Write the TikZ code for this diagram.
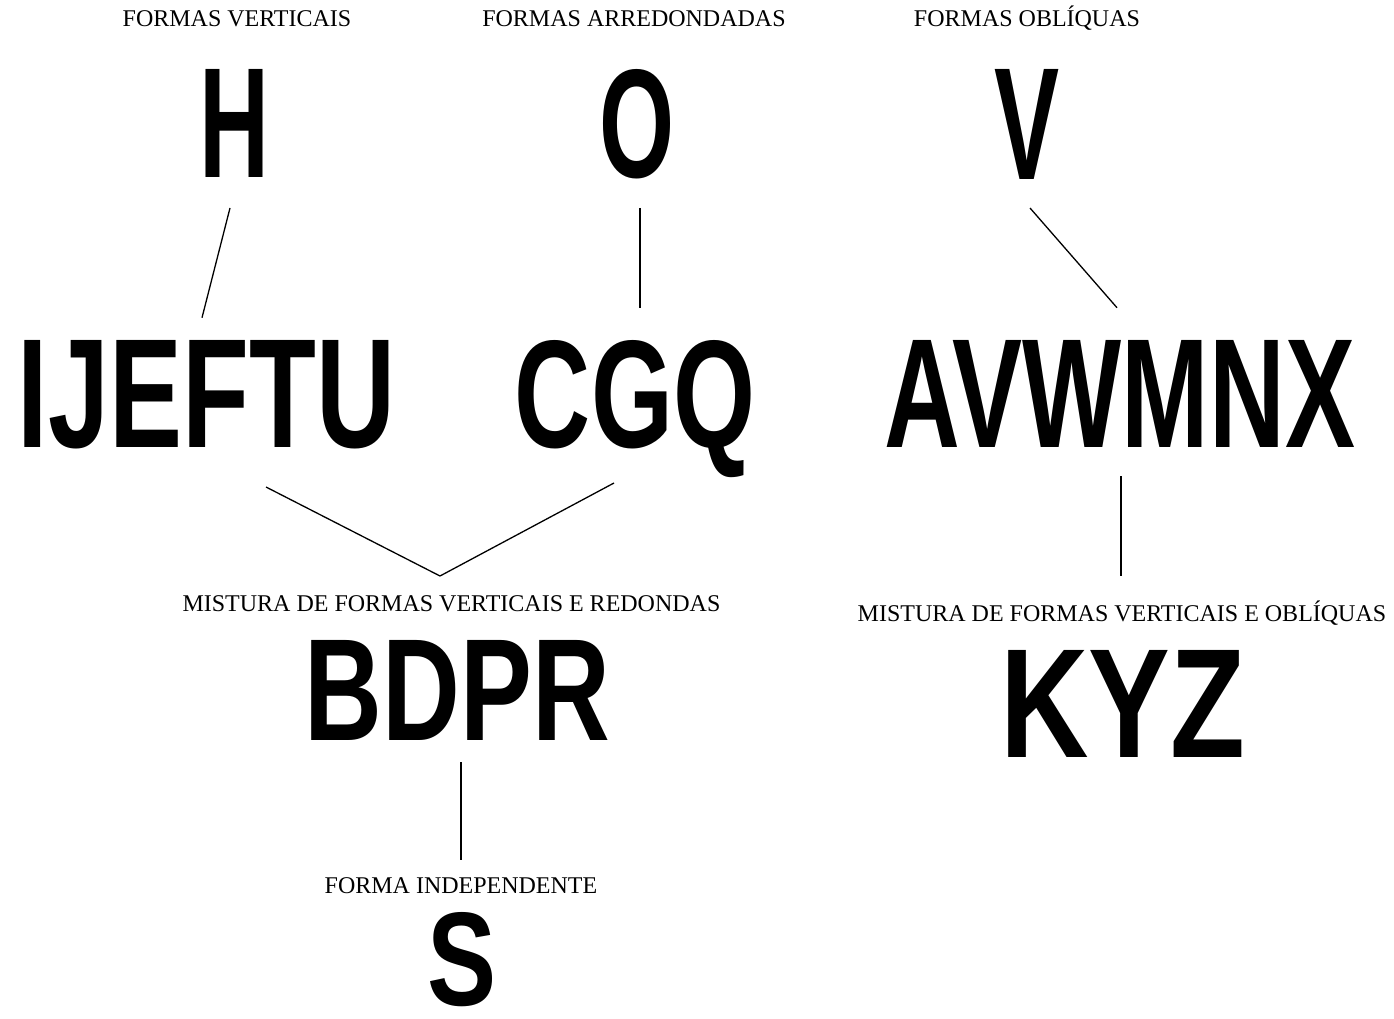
\documentclass[tikz,border=0pt]{standalone}
\usepackage{fontspec}
\usepackage{graphicx}
\setmainfont{Liberation Serif}
\newfontfamily\glyphfont{Liberation Sans}
\newcommand{\glyphbox}[3]{\resizebox{#1pt}{#2pt}{\glyphfont\bfseries #3}}
\begin{document}
\begin{tikzpicture}[x=1pt,y=-1pt,
  lbl/.style={inner sep=0pt, anchor=base, font=\fontsize{24}{28}\selectfont},
  gl/.style={inner sep=0pt, anchor=base},
  conn/.style={line width=1.3pt, black}]
\useasboundingbox (0,0) rectangle (1394,1019);
% labels
\node[lbl] (lv) at (237,27) {FORMAS VERTICAIS};
\node[lbl] (la) at (634,27) {FORMAS ARREDONDADAS};
\node[lbl] (lo) at (1027,27) {FORMAS OBLÍQUAS};
\node[lbl] (mix1) at (451.5,611.7) {MISTURA DE FORMAS VERTICAIS E REDONDAS};
\node[lbl] (mix2) at (1122,621.7) {MISTURA DE FORMAS VERTICAIS E OBLÍQUAS};
\node[lbl] (indep) at (461,893) {FORMA INDEPENDENTE};
% glyph groups (anchored on their baseline)
\node[gl] (H) at (235,178) {\glyphbox{70}{108}{H}};
\node[gl] (O) at (637,178) {\glyphbox{75}{108}{O}};
\node[gl] (V) at (1027,180) {\glyphbox{65}{110}{V}};
\node[gl] (IJ) at (206.5,447) {\glyphbox{377}{107}{IJEFTU}};
\node[gl] (CGQ) at (635,447) {\glyphbox{240}{107}{CGQ}};
\node[gl] (AVW) at (1120,447) {\glyphbox{470}{107}{AVWMNX}};
\node[gl] (BDPR) at (457.5,740) {\glyphbox{305}{100}{BDPR}};
\node[gl] (KYZ) at (1122.5,757) {\glyphbox{245}{107}{KYZ}};
\node[gl] (S) at (462.5,1005) {\glyphbox{69}{93}{S}};
% connectors
\coordinate (join) at ([xshift=-11.5pt,yshift=35.7pt]mix1.base);
\draw[conn] ([xshift=-5pt,yshift=-30pt]H.base) -- ([xshift=-4.5pt,yshift=22pt]IJ.north);
\draw[conn] ([xshift=3pt,yshift=-30pt]O.base) -- ([xshift=5pt,yshift=32pt]CGQ.north);
\draw[conn] ([xshift=3pt,yshift=-28pt]V.base) -- ([xshift=-3pt,yshift=32pt]AVW.north);
\draw[conn] ([xshift=59.5pt,yshift=-40pt]IJ.base) -- (join);
\draw[conn] ([xshift=-21pt,yshift=-36pt]CGQ.base) -- (join);
\draw[conn] ([xshift=1pt,yshift=-29pt]AVW.base) -- ([xshift=-1pt,yshift=45.7pt]mix2.base);
\draw[conn] ([xshift=3.5pt,yshift=-22pt]BDPR.base) -- ([yshift=33pt]indep.base);
\end{tikzpicture}
\end{document}
